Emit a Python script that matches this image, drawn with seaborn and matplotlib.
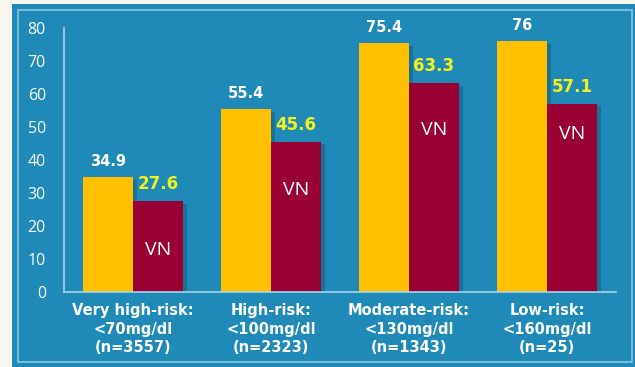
import matplotlib
matplotlib.use("Agg")
import matplotlib.pyplot as plt
import matplotlib.patches as mpatches
import matplotlib.patheffects as pe
import seaborn as sns
import pandas as pd

categories = ["Very high-risk:\n<70mg/dl\n(n=3557)",
              "High-risk:\n<100mg/dl\n(n=2323)",
              "Moderate-risk:\n<130mg/dl\n(n=1343)",
              "Low-risk:\n<160mg/dl\n(n=25)"]
series_names = ["All", "VN"]
values_all = [34.9, 55.4, 75.4, 76]
values_vn = [27.6, 45.6, 63.3, 57.1]
label_all = ["34.9", "55.4", "75.4", "76"]
label_vn = ["27.6", "45.6", "63.3", "57.1"]
yticks = [0, 10, 20, 30, 40, 50, 60, 70, 80]

df = pd.DataFrame({
    "cat": categories * 2,
    "series": [series_names[0]] * 4 + [series_names[1]] * 4,
    "value": values_all + values_vn,
})

BLUE = "#1f8ab7"
YEL = "#ffc000"
RED = "#990033"
LINE = "#a9d5e9"

sns.set_theme(style="white")
plt.rcParams["font.family"] = ["DejaVu Sans"]

fig = plt.figure(figsize=(6.35, 3.67), dpi=100)
fig.patch.set_facecolor("#f6f8ee")
# blue panel
fig.patches.append(mpatches.Rectangle((12 / 635, 0), 1, 1 - 4 / 367,
                                      transform=fig.transFigure, facecolor=BLUE,
                                      edgecolor="none", zorder=-10))
fig.patches.append(mpatches.Rectangle((18 / 635, 5 / 367), (632 - 18) / 635, (362 - 10) / 367,
                                      transform=fig.transFigure, facecolor="none",
                                      edgecolor="#8cc6df", linewidth=1.2, zorder=-9))

ax = fig.add_axes([64 / 635, 1 - 292 / 367, (616 - 64) / 635, (292 - 28) / 367])
ax.set_facecolor("none")

sns.barplot(data=df, x="cat", y="value", hue="series", order=categories,
            hue_order=series_names, palette=[YEL, RED], width=0.725, gap=0,
            saturation=1, legend=False, ax=ax, errorbar=None, linewidth=0)

for p in ax.patches:
    p.set_linewidth(0)
    p.set_edgecolor("none")
    p.set_path_effects([pe.SimplePatchShadow(offset=(3, -2), shadow_rgbFace="black", alpha=0.18),
                        pe.Normal()])

ax.set_xlim(-0.5, 3.5)
ax.set_ylim(0, 80)
ax.set_yticks(yticks)
ax.set_yticklabels([str(t) for t in yticks], color="white", fontsize=11.5,
                   family=["Open Sans", "DejaVu Sans"])
ax.tick_params(axis="y", length=0, pad=13)
ax.tick_params(axis="x", length=0, pad=8)
for lbl in ax.get_xticklabels():
    lbl.set_color("white")
    lbl.set_fontweight("bold")
    lbl.set_fontsize(10.5)
    lbl.set_linespacing(1.3)
ax.set_xlabel("")
ax.set_ylabel("")

for s in ["top", "right"]:
    ax.spines[s].set_visible(False)
for s in ["left", "bottom"]:
    ax.spines[s].set_color(LINE)
    ax.spines[s].set_linewidth(1.2)

bars_all = ax.patches[:4]
bars_vn = ax.patches[4:8]
vn_offsets = [-49, -48, -47, -30]
for i, b in enumerate(bars_all):
    cx = b.get_x() + b.get_width() / 2
    ax.annotate(label_all[i], (cx, b.get_height()), xytext=(0, 8), textcoords="offset pixels",
                ha="center", va="bottom", color="white", fontsize=10.5, fontweight="bold")
for i, b in enumerate(bars_vn):
    cx = b.get_x() + b.get_width() / 2
    ax.annotate(label_vn[i], (cx, b.get_height()), xytext=(0, 8), textcoords="offset pixels",
                ha="center", va="bottom", color="#f2f21e", fontsize=12, fontweight="bold")
    ax.annotate("VN", (cx, b.get_height()), xytext=(0, vn_offsets[i]), textcoords="offset pixels",
                ha="center", va="center", color="white", fontsize=14,
                family=["Open Sans", "DejaVu Sans"])

fig.savefig("out.png", dpi=100, facecolor=fig.get_facecolor())
